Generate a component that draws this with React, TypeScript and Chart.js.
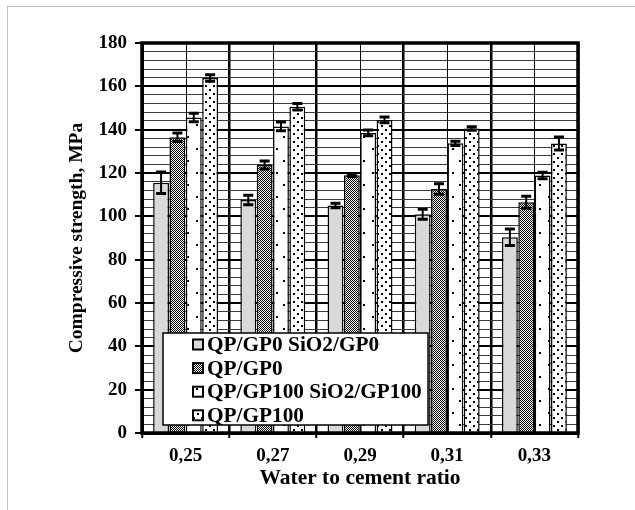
import React, { useEffect, useRef } from "react";
import { Chart, registerables } from "chart.js";

Chart.register(...registerables);

const categories = ["0,25", "0,27", "0,29", "0,31", "0,33"];
const seriesNames = [
  "QP/GP0 SiO2/GP0",
  "QP/GP0",
  "QP/GP100 SiO2/GP100",
  "QP/GP100",
];
const grayValues = [115.5, 107.5, 105, 101, 90.3];
const grayErrors = [5, 2.2, 1, 2.3, 3.8];
const checkerValues = [136.5, 123.7, 119, 112.6, 106.5];
const checkerErrors = [2, 1.8, 0.6, 2.4, 2.8];
const sparseValues = [145.6, 141.5, 138.5, 133.7, 118.8];
const sparseErrors = [2, 2, 1.3, 1, 1.5];
const denseValues = [163.8, 150.6, 144.5, 140.5, 133.6];
const denseErrors = [1.5, 1.5, 1.3, 0.8, 3];
const yTicks = { min: 0, max: 180, minorStep: 4, majorStep: 20 };

const FONT = "'Liberation Serif', 'Times New Roman', serif";

function makePattern(
  w: number,
  h: number,
  bg: string,
  draw: (c: CanvasRenderingContext2D) => void
): CanvasPattern | string {
  const cv = document.createElement("canvas");
  cv.width = w;
  cv.height = h;
  const c = cv.getContext("2d");
  if (!c) return bg;
  c.fillStyle = bg;
  c.fillRect(0, 0, w, h);
  c.fillStyle = "#000";
  draw(c);
  const p = c.createPattern(cv, "repeat");
  return p || bg;
}

export default function App() {
  const ref = useRef<HTMLCanvasElement>(null);

  useEffect(() => {
    document.body.style.margin = "0";
    const canvas = ref.current;
    if (!canvas) return;

    const grayFill = "#d9d9d9";
    const checkerFill = makePattern(2, 2, "#fff", (c) => {
      c.fillRect(0, 0, 1, 1);
      c.fillRect(1, 1, 1, 1);
    });
    const sparseFill = makePattern(16, 24, "#fff", (c) => {
      c.fillRect(4, 4, 2, 2);
      c.fillRect(11, 16, 2, 2);
    });
    const denseFill = makePattern(8, 8, "#fff", (c) => {
      c.fillRect(1, 1, 2, 2);
      c.fillRect(5, 5, 2, 2);
    });

    const fills = [grayFill, checkerFill, sparseFill, denseFill];
    const values = [grayValues, checkerValues, sparseValues, denseValues];
    const errors = [grayErrors, checkerErrors, sparseErrors, denseErrors];

    const datasets = seriesNames.map((name, i) => ({
      label: name,
      data: values[i],
      backgroundColor: fills[i] as any,
      borderColor: "#000",
      borderWidth: 1.5,
      categoryPercentage: 0.75,
      barPercentage: 0.97,
    }));

    const decor = {
      id: "decor",
      beforeDraw(chart: any) {
        const { ctx } = chart;
        ctx.save();
        ctx.strokeStyle = "#c0c0c0";
        ctx.lineWidth = 1;
        ctx.strokeRect(7.5, 6.5, 2000, 2000);
        ctx.restore();
      },
      beforeDatasetsDraw(chart: any) {
        const { ctx, chartArea } = chart;
        const xs = chart.scales.x;
        ctx.save();
        ctx.strokeStyle = "#000";
        ctx.lineWidth = 1;
        categories.forEach((_, i) => {
          const x = Math.round(xs.getPixelForValue(i)) + 0.5;
          ctx.beginPath();
          ctx.moveTo(x, chartArea.top);
          ctx.lineTo(x, chartArea.bottom);
          ctx.stroke();
        });
        ctx.restore();
      },
      afterDatasetsDraw(chart: any) {
        const { ctx } = chart;
        const ys = chart.scales.y;
        ctx.save();
        ctx.strokeStyle = "#000";
        datasets.forEach((ds, di) => {
          const meta = chart.getDatasetMeta(di);
          meta.data.forEach((bar: any, i: number) => {
            const v = values[di][i];
            const e = errors[di][i];
            const yt = ys.getPixelForValue(v + e);
            const yb = ys.getPixelForValue(v - e);
            const x = bar.x;
            ctx.lineWidth = 2;
            ctx.beginPath();
            ctx.moveTo(x, yt);
            ctx.lineTo(x, yb);
            ctx.stroke();
            ctx.lineWidth = 3;
            ctx.beginPath();
            ctx.moveTo(x - 5, yt);
            ctx.lineTo(x + 5, yt);
            ctx.moveTo(x - 5, yb);
            ctx.lineTo(x + 5, yb);
            ctx.stroke();
          });
        });
        ctx.restore();
      },
      afterDraw(chart: any) {
        const { ctx, chartArea } = chart;
        ctx.save();
        // plot frame
        ctx.strokeStyle = "#000";
        ctx.lineWidth = 3.5;
        ctx.strokeRect(
          chartArea.left,
          chartArea.top,
          chartArea.right - chartArea.left,
          chartArea.bottom - chartArea.top
        );
        // legend box
        const lx = chartArea.left + 21;
        const ly = chartArea.top + 290;
        const lw = 265;
        const lh = 92;
        ctx.fillStyle = "#fff";
        ctx.fillRect(lx, ly, lw, lh);
        ctx.lineWidth = 1.5;
        ctx.strokeRect(lx, ly, lw, lh);
        ctx.font = `bold 21.3px ${FONT}`;
        ctx.textBaseline = "middle";
        ctx.textAlign = "left";
        seriesNames.forEach((name, i) => {
          const cy = ly + 11.5 + i * 23.6;
          const mx = lx + 30;
          ctx.fillStyle = fills[i] as any;
          ctx.fillRect(mx, cy - 5, 10, 10);
          ctx.strokeStyle = "#000";
          ctx.lineWidth = 2;
          ctx.strokeRect(mx, cy - 5, 10, 10);
          ctx.fillStyle = "#000";
          ctx.fillText(name, mx + 14, cy + 1);
        });
        ctx.restore();
      },
    };

    const chart = new Chart(canvas, {
      type: "bar",
      data: { labels: categories, datasets: datasets as any },
      plugins: [decor],
      options: {
        animation: false,
        responsive: false,
        devicePixelRatio: 1,
        layout: { padding: { left: 0, top: 43, right: 57, bottom: 0 } },
        plugins: {
          legend: { display: false },
          tooltip: { enabled: false },
        },
        scales: {
          x: {
            grid: {
              offset: true,
              color: "#000",
              lineWidth: 2.5,
              tickLength: 5,
              tickColor: "#000",
              tickWidth: 2,
            },
            border: { display: true, color: "#000", width: 3 },
            ticks: {
              color: "#000",
              padding: 7,
              maxRotation: 0,
              font: { family: FONT, size: 19, weight: "bold" },
            },
            title: {
              display: true,
              text: "Water to cement ratio",
              color: "#000",
              font: { family: FONT, size: 21.5, weight: "bold" },
              padding: { top: 0, bottom: 19 },
            },
            afterFit: (s: any) => {
              s.height = 77;
            },
          },
          y: {
            min: yTicks.min,
            max: yTicks.max,
            grid: {
              color: (c: any) =>
                c.tick && c.tick.value % yTicks.majorStep === 0 ? "#000" : "#3a3a3a",
              lineWidth: (c: any) =>
                c.tick && c.tick.value % yTicks.majorStep === 0 ? 2 : 1,
              tickLength: 7,
              tickWidth: 2,
              tickColor: (c: any) =>
                c.tick && c.tick.value % yTicks.majorStep === 0 ? "#000" : "rgba(0,0,0,0)",
            },
            border: { display: true, color: "#000", width: 3 },
            ticks: {
              stepSize: yTicks.minorStep,
              autoSkip: false,
              color: "#000",
              padding: 8,
              font: { family: FONT, size: 19, weight: "bold" },
              callback: (v: any) => (Number(v) % yTicks.majorStep === 0 ? String(v) : ""),
            },
            title: {
              display: true,
              text: "Compressive strength, MPa",
              color: "#000",
              font: { family: FONT, size: 19.5, weight: "bold" },
              padding: { top: 65, bottom: 0 },
            },
            afterFit: (s: any) => {
              s.width = 142;
            },
          },
        },
      },
    });

    return () => chart.destroy();
  }, []);

  return (
    <canvas
      ref={ref}
      width={635}
      height={510}
      style={{ display: "block", width: 635, height: 510 }}
    />
  );
}
